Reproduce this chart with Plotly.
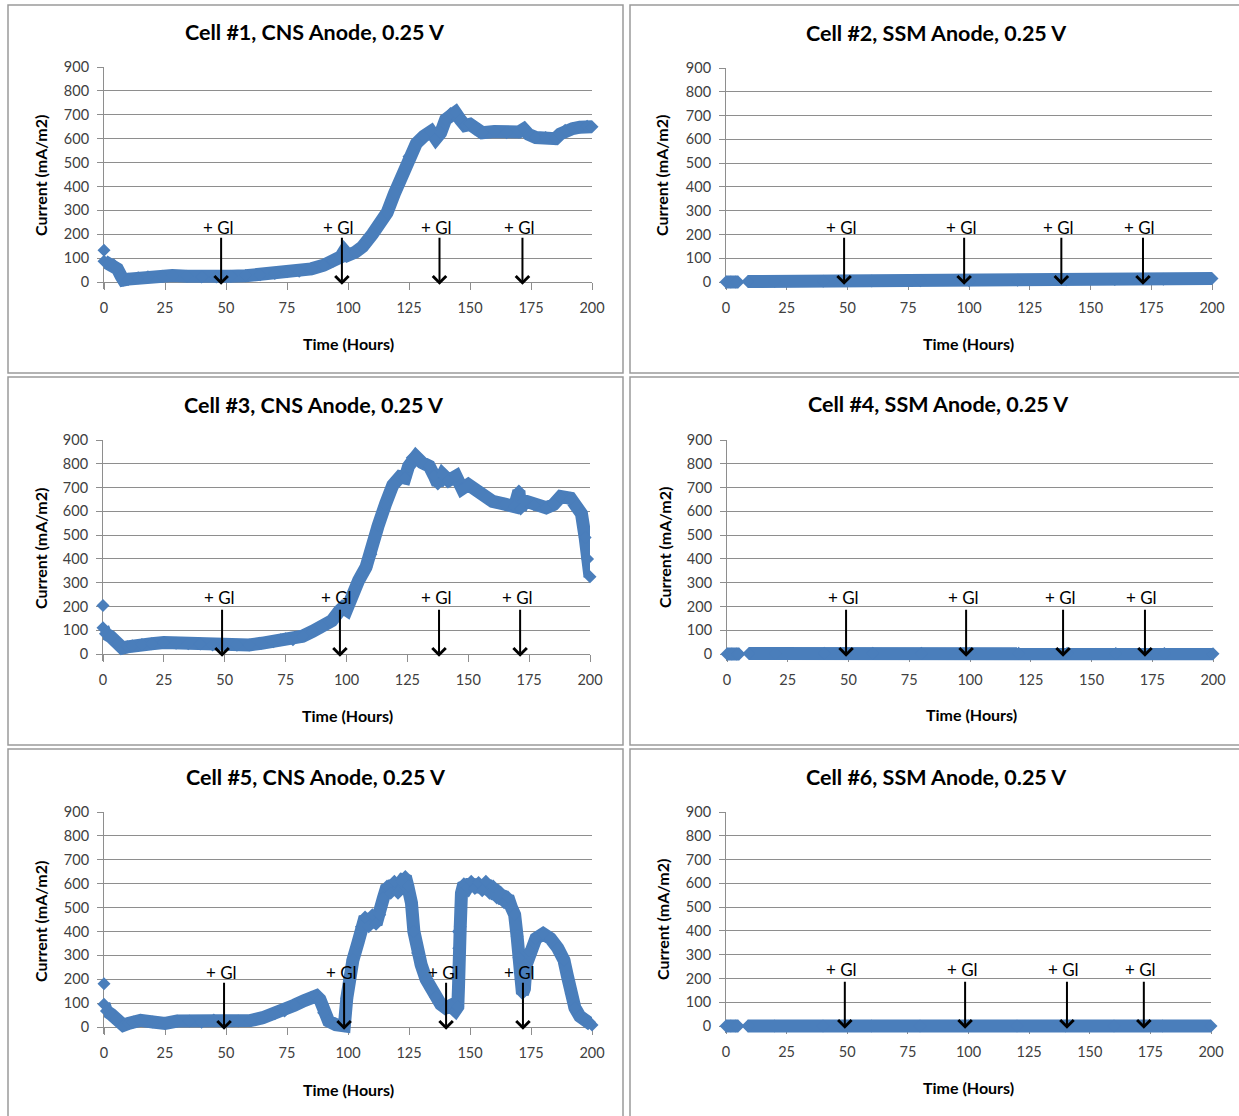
import plotly.graph_objects as go

W, H = 1239, 1116
BLUE = "#4a7ebb"
FONT = "Lato"
GRID = "#8e8e8e"
TICK_TXT = "#404040"

# ---------------- measured current density (mA/m2) vs time (hours) ----------------
# first entry of each CNS series is the isolated initial reading at t = 0
cell1_time = [0, 0, 2, 4, 5.5, 7, 8, 10, 14, 18,
              24, 28, 34, 40, 46, 52, 58, 64, 70, 75,
              80, 85, 90, 94, 97, 98.5, 100, 103, 106, 110,
              113, 116, 119, 122, 125, 128, 131, 134, 136, 138,
              140, 142, 144, 146, 148, 150, 152, 155, 160, 165,
              170, 172, 174, 177, 181, 185, 187, 189, 192, 195,
              198, 200]
cell1_current = [133, 87, 80, 72, 55, 25, 8, 12, 18, 22,
                 24, 27, 24, 21, 21, 24, 26, 30, 36, 43,
                 45, 55, 70, 88, 105, 130, 112, 125, 148, 200,
                 245, 290, 370, 440, 525, 580, 610, 630, 600, 625,
                 680, 705, 710, 680, 655, 660, 640, 625, 630, 625,
                 628, 640, 618, 605, 605, 600, 620, 635, 642, 648,
                 652, 650]

cell2_time = [0, 2, 4, 5, None, 9, 20, 40, 60, 80,
              100, 120, 140, 160, 180, 200]
cell2_current = [0, 0, 0, 0, None, 2, 2, 3, 4, 5,
                 5, 7, 9, 10, 12, 15]

cell3_time = [0, 0, 1, 3, 6, 8, 10, 12, 16, 20,
              25, 30, 35, 40, 45, 50, 55, 60, 65, 70,
              73, 75, 78, 82, 86, 90, 94, 97, 98.5, 100,
              102, 105, 108, 110, 113, 116, 119, 122, 124, 125.5,
              127, 128.5, 131, 134, 136, 137.5, 139.5, 142, 145, 147.5,
              150, 155, 160, 165, 169, 170.8, 171.5, 173, 177, 182,
              185, 188, 192, 194.5, 196.5, 198, 199, 200]
cell3_current = [204, 110, 85, 74, 46, 25, 30, 35, 40, 43,
                 48, 45, 43, 42, 38, 37, 37, 38, 45, 52,
                 60, 64, 60, 75, 95, 115, 140, 180, 195, 185,
                 240, 310, 365, 420, 540, 630, 710, 745, 740, 790,
                 825, 830, 805, 790, 750, 715, 755, 730, 748, 695,
                 712, 678, 642, 630, 620, 685, 610, 645, 628, 615,
                 628, 662, 655, 625, 590, 490, 400, 325]

cell4_time = [0, 2, 4, 5, None, 9, 20, 40, 60, 80,
              100, 120, 140, 160, 180, 200]
cell4_current = [0, 0, 0, 0, None, 2, 2, 3, 3, 3,
                 3, 3, 3, 2, 2, 1]

cell5_time = [0, 0, 1, 3, 5, 8, 10, 12, 15, 20,
              25, 30, 35, 40, 45, 50, 55, 60, 65, 70,
              74, 78, 82, 85, 87, 88.5, 90, 92, 95, 98.5,
              99.5, 100.5, 102, 104, 105.5, 107, 108.5, 110, 111.5, 113,
              114.5, 116, 117.5, 119, 120.5, 122, 123.5, 124.5, 126, 127,
              128.5, 130, 132, 134, 136, 138, 140, 142, 144, 145,
              145.3, 145.1, 145.4, 145.3, 146, 146.5, 147.5, 149, 150.5, 152,
              153.5, 155, 156.5, 158, 159.5, 161, 162.5, 164, 165.5, 167,
              168.3, 169.3, 170, 170.8, 171.5, 172.3, 173, 174.5, 177, 180,
              183, 186, 188.5, 190, 191.5, 193, 195, 197.5, 199, 200]
cell5_current = [181, 95, 67, 53, 35, 7, 15, 21, 28, 21,
                 15, 25, 25, 20, 29, 25, 25, 27, 39, 55,
                 67, 91, 110, 125, 130, 115, 60, 25, 10, 5,
                 120, 200, 280, 350, 420, 460, 420, 470, 430, 470,
                 540, 590, 560, 610, 560, 610, 630, 590, 520, 400,
                 310, 260, 200, 160, 125, 95, 80, 90, 70, 85,
                 170, 250, 330, 400, 420, 560, 600, 585, 610, 580,
                 605, 570, 610, 560, 590, 540, 565, 520, 545, 500,
                 470, 380, 290, 200, 140, 160, 260, 320, 370, 390,
                 370, 330, 280, 210, 140, 80, 45, 30, 20, 8]

cell6_time = [0, 2, 4, 5, None, 9, 20, 40, 60, 80,
              100, 120, 140, 160, 180, 200]
cell6_current = [0, 0, 0, 0, None, 0, 0, 0, 0, 0,
                 0, 0, 0, 0, 0, 0]

# glucose additions (hours)
cell1_glucose = [48, 97.5, 137.5, 171.5]
cell2_glucose = [48.6, 98, 138, 171.6]
cell3_glucose = [48.9, 97.3, 138, 171.3]
cell4_glucose = [49, 98.4, 138.3, 172]
cell5_glucose = [49.2, 98.4, 140.2, 171.7]
cell6_glucose = [49, 98.6, 140.6, 172.3]

titles = ["Cell #1, CNS Anode, 0.25 V", "Cell #2, SSM Anode, 0.25 V",
          "Cell #3, CNS Anode, 0.25 V", "Cell #4, SSM Anode, 0.25 V",
          "Cell #5, CNS Anode, 0.25 V", "Cell #6, SSM Anode, 0.25 V"]

x_ticks = [0, 25, 50, 75, 100, 125, 150, 175, 200]
y_ticks = [0, 100, 200, 300, 400, 500, 600, 700, 800, 900]

series = [
    (cell1_time, cell1_current, cell1_glucose, True),
    (cell2_time, cell2_current, cell2_glucose, False),
    (cell3_time, cell3_current, cell3_glucose, True),
    (cell4_time, cell4_current, cell4_glucose, False),
    (cell5_time, cell5_current, cell5_glucose, True),
    (cell6_time, cell6_current, cell6_glucose, False),
]

# page layout in pixels: plot area (left, right, top, zero-line), frame box,
# title centre, axis-title centres, label height of the "+ Gl" notes
layout_px = [
    dict(area=(104, 592, 67, 282), frame=(8, 623, 5, 373), title=(315, 32),
         ytitle=(40, 175), xtitle=(348, 343), note_y=230),
    dict(area=(726, 1212, 68, 282), frame=(630, 1245, 5, 373), title=(936, 33),
         ytitle=(662, 176), xtitle=(969, 343), note_y=228),
    dict(area=(103, 590, 440, 654), frame=(8, 623, 377, 745), title=(314, 405),
         ytitle=(40, 548), xtitle=(347, 715), note_y=238),
    dict(area=(727, 1213, 440, 654), frame=(630, 1245, 377, 745), title=(938, 404),
         ytitle=(664, 548), xtitle=(971, 714), note_y=238),
    dict(area=(104, 592, 812, 1027), frame=(8, 623, 749, 1125), title=(316, 777),
         ytitle=(40, 921), xtitle=(348, 1089), note_y=230),
    dict(area=(726, 1211, 812, 1026), frame=(630, 1245, 749, 1125), title=(936, 777),
         ytitle=(662, 920), xtitle=(969, 1087), note_y=238),
]

TICK_LEN = 7      # x tick marks hang below the zero line
BELOW = 7         # room under the zero line so the thick trace is not cut


def px_x(v):
    return v / W


def px_y(v):
    return 1 - v / H


fig = go.Figure()
annotations = []
shapes = []

for i, ((t, cur, glu, has_first), lp) in enumerate(zip(series, layout_px)):
    n = i + 1
    sfx = "" if n == 1 else str(n)
    xa, ya = "x" + sfx, "y" + sfx
    l, r, top, zero = lp["area"]
    per_px = 900.0 / (zero - top)
    y_low = -BELOW * per_px

    if has_first:
        fig.add_trace(go.Scatter(
            x=t[:1], y=cur[:1], xaxis=xa, yaxis=ya, mode="markers",
            marker=dict(symbol="diamond", size=10, color=BLUE),
            cliponaxis=False, showlegend=False, hoverinfo="skip"))
        tt, cc = t[1:], cur[1:]
    else:
        tt, cc = t, cur
    fig.add_trace(go.Scatter(
        x=tt, y=cc, xaxis=xa, yaxis=ya, mode="lines+markers",
        line=dict(color=BLUE, width=13, shape="linear"),
        marker=dict(symbol="diamond", size=10, color=BLUE),
        cliponaxis=False, showlegend=False))

    fig.layout["xaxis" + sfx] = dict(
        domain=[px_x(l), px_x(r)], anchor="free", position=px_y(zero),
        range=[0, 200], automargin=False, layer="below traces",
        tickvals=x_ticks, ticks="outside", ticklen=TICK_LEN, tickcolor=GRID,
        showline=True, linecolor=GRID, linewidth=1, showgrid=False,
        zeroline=False, ticklabelstandoff=6,
        tickfont=dict(family=FONT, size=14.5, color=TICK_TXT), fixedrange=True)
    fig.layout["yaxis" + sfx] = dict(
        domain=[px_y(zero + BELOW), px_y(top)], anchor=xa,
        range=[y_low, 900], automargin=False, layer="below traces",
        tickvals=y_ticks, ticks="outside", ticklen=6, tickcolor=GRID,
        showline=True, linecolor=GRID, linewidth=1, showgrid=True,
        gridcolor=GRID, gridwidth=1, zeroline=False, ticklabelstandoff=5,
        tickfont=dict(family=FONT, size=14.5, color=TICK_TXT), fixedrange=True)

    # glucose addition markers
    for g in glu:
        annotations.append(dict(
            x=g, y=-12, ax=g, ay=192, xref=xa, yref=ya, axref=xa, ayref=ya,
            text="", showarrow=True, arrowhead=4, arrowsize=1.3, arrowwidth=2,
            arrowcolor="black", standoff=0))
        annotations.append(dict(
            x=g, y=lp["note_y"], xref=xa, yref=ya, text="+ Gl", showarrow=False,
            xanchor="center", yanchor="middle", xshift=-3,
            font=dict(family=FONT, size=17, color="black")))

    fx0, fx1, fy0, fy1 = lp["frame"]
    shapes.append(dict(type="rect", xref="paper", yref="paper",
                       x0=px_x(fx0), x1=px_x(fx1), y0=px_y(fy1), y1=px_y(fy0),
                       line=dict(color="#9a9a9a", width=1.5), layer="below"))

    tx, ty = lp["title"]
    annotations.append(dict(x=px_x(tx), y=px_y(ty), xref="paper", yref="paper",
                            xanchor="center", yanchor="middle",
                            text="<b>" + titles[i] + "</b>", showarrow=False,
                            font=dict(family=FONT, size=21.5, color="black")))
    yx, yy = lp["ytitle"]
    annotations.append(dict(x=px_x(yx), y=px_y(yy), xref="paper", yref="paper",
                            xanchor="center", yanchor="middle",
                            text="<b>Current (mA/m2)</b>", showarrow=False,
                            textangle=-90,
                            font=dict(family=FONT, size=16, color="black")))
    xx, xy = lp["xtitle"]
    annotations.append(dict(x=px_x(xx), y=px_y(xy), xref="paper", yref="paper",
                            xanchor="center", yanchor="middle",
                            text="<b>Time (Hours)</b>", showarrow=False,
                            font=dict(family=FONT, size=16, color="black")))

fig.update_layout(
    width=W, height=H, margin=dict(l=0, r=0, t=0, b=0, pad=0),
    paper_bgcolor="white", plot_bgcolor="white",
    font=dict(family=FONT), showlegend=False,
    annotations=annotations, shapes=shapes)

fig.write_html("out.html", config={"displayModeBar": False})
